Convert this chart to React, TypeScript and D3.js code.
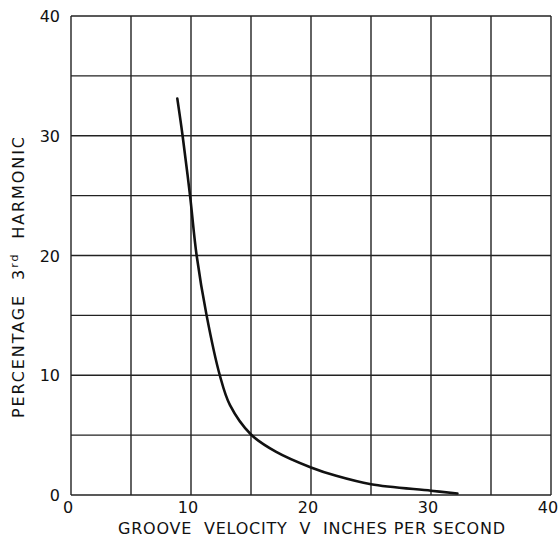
import React from "react";
import * as d3 from "d3";

const velocity = [8.86, 9.3, 9.92, 10.47, 11.3, 12.4, 13.25, 15.0, 17.1, 20.0, 22.1, 25.0, 30.0, 32.2];
const harmonic = [33.1, 30.0, 25.0, 20.0, 15.0, 10.0, 7.5, 5.05, 3.6, 2.3, 1.6, 0.9, 0.36, 0.12];
const xTicks = [0, 10, 20, 30, 40];
const yTicks = [0, 10, 20, 30, 40];
const gridX = [0, 5, 10, 15, 20, 25, 30, 35, 40];
const gridY = [0, 5, 10, 15, 20, 25, 30, 35, 40];
const xTitle = "GROOVE  VELOCITY  V  INCHES PER SECOND";

export default function App() {
  const W = 560, H = 538;
  const x = d3.scaleLinear().domain([0, 40]).range([71, 551]);
  const y = d3.scaleLinear().domain([0, 40]).range([495, 16]);
  const pts = velocity.map((v, i) => [v, harmonic[i]] as [number, number]);
  const line = d3.line<[number, number]>().x(d => x(d[0])).y(d => y(d[1])).curve(d3.curveCatmullRom.alpha(0.5));
  const font = "'DejaVu Sans', sans-serif";
  return (
    <svg width={W} height={H} style={{ position: "absolute", left: 0, top: 0, background: "#fff" }}>
      <rect x={0} y={0} width={W} height={H} fill="#fff" />
      {gridX.map(g => (
        <line key={"gx" + g} x1={x(g)} x2={x(g)} y1={y(0)} y2={y(40)} stroke="#222" strokeWidth={1.4} />
      ))}
      {gridY.map(g => (
        <line key={"gy" + g} x1={x(0)} x2={x(40)} y1={y(g)} y2={y(g)} stroke="#222" strokeWidth={1.4} />
      ))}
      <path d={line(pts) || ""} fill="none" stroke="#111" strokeWidth={2.6} strokeLinecap="round" />
      {yTicks.map(t => (
        <text key={"yt" + t} x={60} y={y(t) + 6} textAnchor="end" fontFamily={font} fontSize={16} fill="#111">{t}</text>
      ))}
      {xTicks.map(t => (
        <text key={"xt" + t} x={x(t) - 3} y={513} textAnchor="middle" fontFamily={font} fontSize={16} fill="#111">{t}</text>
      ))}
      <text x={118} y={534} fontFamily={font} fontSize={16} fill="#111" style={{ whiteSpace: "pre" }} textLength={387} lengthAdjust="spacing">{xTitle}</text>
      <text transform="translate(24,418) rotate(-90)" fontFamily={font} fontSize={16} fill="#111" style={{ whiteSpace: "pre" }} textLength={281} lengthAdjust="spacing">
        {"PERCENTAGE  3"}<tspan fontSize={11} dy={-6}>rd</tspan><tspan dy={6}>{"  HARMONIC"}</tspan>
      </text>
    </svg>
  );
}
